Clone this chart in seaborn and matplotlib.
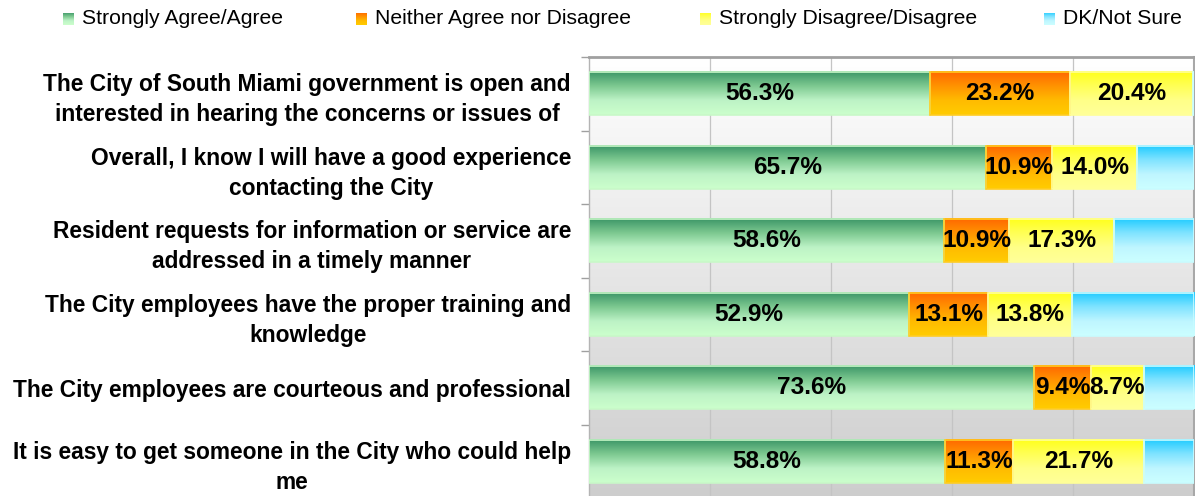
import numpy as np
import matplotlib
matplotlib.use("Agg")
import matplotlib.pyplot as plt
import seaborn as sns
from matplotlib.colors import LinearSegmentedColormap

# ---------------- data ----------------
categories = [
    "The City of South Miami government is open and\ninterested in hearing the concerns or issues of",
    "Overall, I know I will have a good experience\ncontacting the City",
    "Resident requests for information or service are\naddressed in a timely manner",
    "The City employees have the proper training and\nknowledge",
    "The City employees are courteous and professional",
    "It is easy to get someone in the City who could help\nme",
]
series_names = ["Strongly Agree/Agree", "Neither Agree nor Disagree",
                "Strongly Disagree/Disagree", "DK/Not Sure"]
agree = [56.3, 65.7, 58.6, 52.9, 73.6, 58.8]
neutral = [23.2, 10.9, 10.9, 13.1, 9.4, 11.3]
disagree = [20.4, 14.0, 17.3, 13.8, 8.7, 21.7]
dk_not_sure = [0.1, 9.4, 13.2, 20.2, 8.3, 8.2]
series_values = [agree, neutral, disagree, dk_not_sure]
show_labels = [True, True, True, False]

# ---------------- style ----------------
gradients = [
    ["#3a9466", "#7cc890", "#bdf3c6", "#ccffcc"],
    ["#ff6600", "#ff9200", "#ffbb00", "#ffcc00"],
    ["#ffff1a", "#ffff55", "#ffff88", "#ffff99"],
    ["#1ecbff", "#7fe3ff", "#bff6ff", "#ccffff"],
]
edges = ["#c8f8c8", "#ffcc22", "#ffff99", "#c8fcff"]
cmaps = [LinearSegmentedColormap.from_list(f"g{i}", c) for i, c in enumerate(gradients)]

sns.set_theme(style="white")
plt.rcParams["font.family"] = ["Liberation Sans", "DejaVu Sans"]

W, H = 1195, 496
fig = plt.figure(figsize=(W / 100, H / 100), dpi=100)
fig.patch.set_facecolor("white")
top_px, bot_px = 57, 498
ax = fig.add_axes([589 / W, 1 - bot_px / H, 605 / W, (bot_px - top_px) / H])

# plot background gradient
bg = LinearSegmentedColormap.from_list("bg", ["#ffffff", "#cdcdcd"])
grad = np.linspace(0, 1, 256).reshape(-1, 1)
ax.imshow(grad, extent=(0, 100, 5.5, -0.5), cmap=bg, aspect="auto", zorder=0)

left = np.zeros(len(categories))
for i, (name, vals) in enumerate(zip(series_names, series_values)):
    n_before = len(ax.patches)
    sns.barplot(x=vals, y=categories, orient="h", left=left, color=gradients[i][1],
                width=0.59, saturation=1, ax=ax, zorder=4, linewidth=1.2,
                edgecolor=edges[i])
    for p in ax.patches[n_before:]:
        x0, y0 = p.get_x(), p.get_y()
        w, h = p.get_width(), p.get_height()
        p.set_facecolor("none")
        ax.imshow(grad, extent=(x0, x0 + w, y0 + h, y0), cmap=cmaps[i],
                  aspect="auto", zorder=3, interpolation="bilinear")
    if show_labels[i]:
        for j, v in enumerate(vals):
            ax.text(left[j] + v / 2, j, f"{v:.1f}%", ha="center", va="center",
                    fontsize=17.6, fontweight="bold", color="black", zorder=6)
    left = left + np.array(vals)

ax.set_xlim(0, 100)
ax.set_ylim(5.5, -0.5)
ax.set_xlabel("")
ax.set_ylabel("")
ax.set_xticks([])
for gx in [20, 40, 60, 80]:
    ax.axvline(gx, color="#c4c4c4", lw=0.9, zorder=1)

ax.set_yticks(range(len(categories)))
ax.set_yticklabels(categories, fontsize=16.4, fontweight="bold", color="black",
                   multialignment="center")
for t in ax.get_yticklabels():
    t.set_linespacing(1.38)
ax.tick_params(axis="y", which="major", length=0, pad=13)
ax.set_yticks(np.arange(-0.5, len(categories), 1), minor=True)
ax.tick_params(axis="y", which="minor", length=6, width=1, color="#a0a0a0", left=True)

for s in ["top", "right", "left", "bottom"]:
    ax.spines[s].set_visible(True)
ax.spines["top"].set_color("#a0a0a0")
ax.spines["top"].set_linewidth(2)
ax.spines["right"].set_color("#a8a8a8")
ax.spines["right"].set_linewidth(1.5)
ax.spines["left"].set_color("#b4b4b4")
ax.spines["left"].set_linewidth(1)
ax.spines["bottom"].set_visible(False)

# legend (manual, top)
marker_x = [63, 356, 700, 1044]
text_x = [82, 375, 719, 1063]
leg_y = 19
for i, name in enumerate(series_names):
    lax = fig.add_axes([marker_x[i] / W, 1 - (leg_y + 6.5) / H, 11 / W, 13 / H])
    lax.imshow(grad, cmap=cmaps[i], aspect="auto")
    lax.axis("off")
    fig.text(text_x[i] / W, 1 - leg_y / H, name, ha="left", va="center",
             fontsize=15.2, color="black")

fig.savefig("out.png", dpi=100)
